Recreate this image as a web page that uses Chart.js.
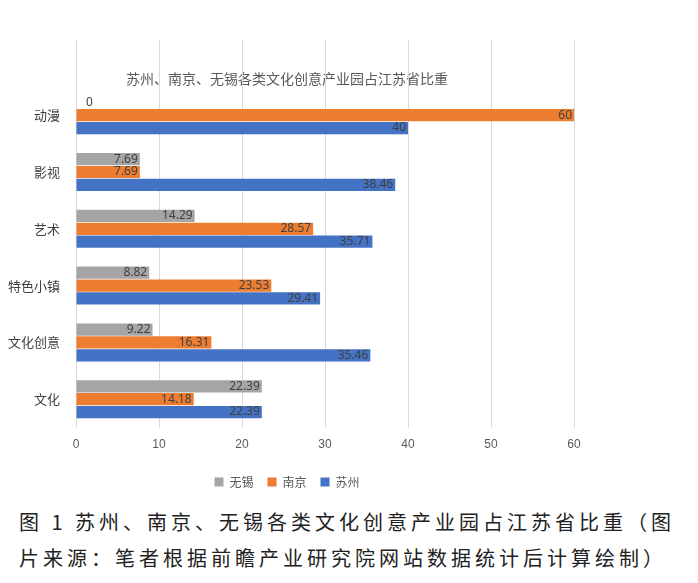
<!DOCTYPE html>
<html><head><meta charset="utf-8">
<script src="https://cdn.jsdelivr.net/npm/chart.js@4/dist/chart.umd.min.js"></script>
<style>
body{margin:0;background:#fff;width:698px;height:583px;overflow:hidden}
#wrap{position:absolute;left:0;top:0;width:698px;height:500px}
#cap{position:absolute;left:19px;top:504px;width:690px;font-family:"Noto Sans CJK SC";font-size:20px;letter-spacing:4px;line-height:36px;color:#222;text-align:left;white-space:nowrap}
</style></head><body>
<div id="wrap"><canvas id="c"></canvas></div>
<div id="cap">图 1 苏州、南京、无锡各类文化创意产业园占江苏省比重（图<br>片来源：笔者根据前瞻产业研究院网站数据统计后计算绘制）</div>
<script>
const categories=["动漫","影视","艺术","特色小镇","文化创意","文化"];
const wuxi=[0,7.69,14.29,8.82,9.22,22.39];
const nanjing=[60,7.69,28.57,23.53,16.31,14.18];
const suzhou=[40,38.46,35.71,29.41,35.46,22.39];
const xTicks=[0,10,20,30,40,50,60];
const gridTop=40;
const gridExt={id:'gext',beforeDatasetsDraw(ch){const c=ch.ctx,x=ch.scales.x,a=ch.chartArea;c.save();c.strokeStyle='#d9d9d9';c.lineWidth=1;
xTicks.forEach(v=>{const px=Math.round(x.getPixelForValue(v))+0.5;c.beginPath();c.moveTo(px,gridTop);c.lineTo(px,a.top);c.stroke();});c.restore();}};
const labelPlugin={id:'lbl',afterDatasetsDraw(ch){const c=ch.ctx;c.save();c.font='12px "Noto Sans"';c.fillStyle='#404040';c.textBaseline='middle';
ch.data.datasets.forEach((d,i)=>{ch.getDatasetMeta(i).data.forEach((b,j)=>{const v=d.data[j];if(v===0){c.textAlign='left';c.fillText('0',b.base+10,b.y);}else{c.textAlign='right';c.fillText(String(v),b.x-2,b.y);}});});c.restore();}};
new Chart(document.getElementById('c'),{type:'bar',
data:{labels:categories,datasets:[
{label:'无锡',data:wuxi,backgroundColor:'#a5a5a5'},
{label:'南京',data:nanjing,backgroundColor:'#ed7d31'},
{label:'苏州',data:suzhou,backgroundColor:'#4472c4'}]},
options:{indexAxis:'y',responsive:true,maintainAspectRatio:false,animation:false,
layout:{padding:{left:0,right:124,top:68,bottom:2}},
datasets:{bar:{barPercentage:0.95,categoryPercentage:0.68}},
plugins:{title:{display:true,text:'苏州、南京、无锡各类文化创意产业园占江苏省比重',color:'#595959',font:{size:14,family:'"Noto Sans CJK SC"',weight:'normal'},padding:{top:2,bottom:0}},
legend:{position:'bottom',labels:{boxWidth:9,boxHeight:9,color:'#595959',font:{size:12,family:'"Noto Sans CJK SC"'},padding:14}},tooltip:{enabled:false}},
scales:{x:{min:0,max:60,afterBuildTicks(a){a.ticks=xTicks.map(v=>({value:v}));},ticks:{color:'#595959',font:{size:12},padding:10},grid:{color:'#d9d9d9',drawTicks:false},border:{display:false}},
y:{ticks:{color:'#404040',font:{size:13,family:'"Noto Sans CJK SC"'},padding:8},grid:{display:false},border:{color:'#d9d9d9'}}}},
plugins:[gridExt,labelPlugin]});
</script></body></html>
